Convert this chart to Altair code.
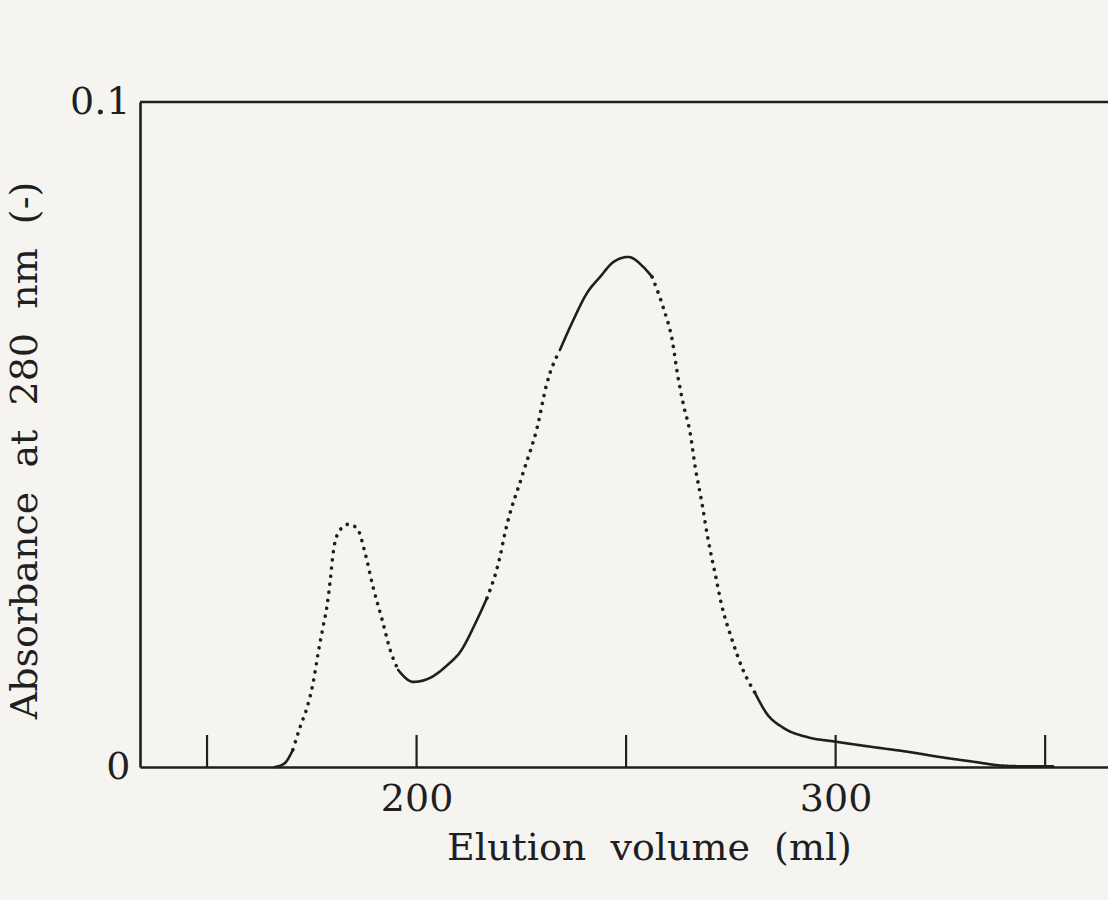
import altair as alt
import pandas as pd

# Elution volume (ml) and absorbance at 280 nm
volume = [166.2, 168.4, 170.5, 172.2, 173.9, 175.3, 176.5, 177.7, 178.6, 179.4,
          180.1, 181.3, 183.7, 185.8, 187.7, 189.6, 191.8, 193.7, 195.6, 199.2,
          203.2, 207.3, 210.4, 214.4, 216.8, 219.9, 221.1, 225.4, 228.8, 231.1,
          234.2, 237.4, 240.7, 243.8, 246.9, 250.5, 254.1, 256.2, 258.8, 261.0,
          262.4, 263.6, 265.3, 266.5, 268.1, 269.6, 271.2, 272.9, 275.3, 277.9,
          280.8, 283.6, 287.5, 293.2, 300.1, 308.9, 317.1, 324.9, 332.8, 340.0,
          346.0, 351.9]
absorbance = [0.0000, 0.0005, 0.0026, 0.0060, 0.0090, 0.0126, 0.0171, 0.0211, 0.0241, 0.0281,
              0.0322, 0.0352, 0.0365, 0.0359, 0.0322, 0.0271, 0.0221, 0.0176, 0.0146, 0.0128,
              0.0134, 0.0153, 0.0173, 0.0221, 0.0254, 0.0316, 0.0352, 0.0442, 0.0511, 0.0577,
              0.0627, 0.0672, 0.0713, 0.0737, 0.0759, 0.0767, 0.0752, 0.0737, 0.0692, 0.0642,
              0.0586, 0.0547, 0.0502, 0.0451, 0.0397, 0.0341, 0.0292, 0.0241, 0.0191, 0.0146,
              0.0111, 0.0080, 0.0059, 0.0045, 0.0038, 0.0030, 0.0023, 0.0015, 0.0008, 0.0002,
              0.0001, 0.0001]

# recorder trace: sections drawn solid or as separated dots
seg_breaks = [166.2, 170.5, 195.6, 216.8, 234.2, 256.2, 280.8, 351.9]
seg_styles = ["solid", "dotted", "solid", "dotted", "solid", "dotted", "solid"]

x_ticks = [150, 200, 250, 300, 350]
x_labeled = [200, 300]
y_ticks = [0, 0.1]

ink = "#1f1f1f"
paper = "#f6f4f1"
font = "DejaVu Serif"
sp = " \u00a0"  # wide word spacing as in the typed original

rows = []
for i, style in enumerate(seg_styles):
    lo, hi = seg_breaks[i], seg_breaks[i + 1]
    for v, a in zip(volume, absorbance):
        if lo <= v <= hi:
            rows.append({"volume": v, "absorbance": a, "seg": i, "style": style})
df = pd.DataFrame(rows)

W, H = 968, 665
xscale = alt.Scale(domain=[134.0, 365.0], nice=False)
yscale = alt.Scale(domain=[0, 0.1], nice=False)

label_expr = "(" + " || ".join(f"datum.value == {v}" for v in x_labeled) + ") ? datum.label : ''"

trace = alt.Chart(df).mark_line(
    color=ink, strokeCap="round", strokeJoin="round", interpolate="monotone"
).encode(
    x=alt.X("volume:Q", scale=xscale,
            axis=alt.Axis(values=x_ticks, labelExpr=label_expr, ticks=False, grid=False,
                          domainColor=ink, domainWidth=2.6, labelFont=font, labelFontSize=38,
                          labelColor=ink, labelPadding=13,
                          title=sp.join(["Elution", "volume", "(ml)"]), titleFont=font,
                          titleFontSize=38, titleFontWeight="normal", titleColor=ink,
                          titleX=509, titleY=92, titleBaseline="alphabetic", titleAlign="center")),
    y=alt.Y("absorbance:Q", scale=yscale,
            axis=alt.Axis(values=y_ticks, labelExpr="datum.value == 0 ? '0' : '0.1'",
                          ticks=False, grid=False, domainColor=ink, domainWidth=2.6,
                          labelFont=font, labelFontSize=38, labelColor=ink, labelPadding=10,
                          title=sp.join(["Absorbance", "at", "280", "nm", "(-)"]), titleFont=font,
                          titleFontSize=38, titleFontWeight="normal", titleColor=ink,
                          titleX=-104, titleY=348, titleBaseline="alphabetic", titleAlign="center",
                          titleAngle=270)),
    detail="seg:N",
    strokeDash=alt.StrokeDash("style:N",
                              scale=alt.Scale(domain=["solid", "dotted"], range=[[1, 0], [0.1, 8]]),
                              legend=None),
    strokeWidth=alt.StrokeWidth("style:N",
                                scale=alt.Scale(domain=["solid", "dotted"], range=[2.6, 3.6]),
                                legend=None),
)

tick_df = pd.DataFrame({"v": x_ticks})
ticks = alt.Chart(tick_df).mark_rule(color=ink, strokeWidth=2.2).encode(
    x=alt.X("v:Q", scale=xscale),
    y=alt.value(H - 32),
    y2=alt.value(H),
)

top_df = pd.DataFrame({"a": [0.1]})
top = alt.Chart(top_df).mark_rule(color=ink, strokeWidth=2.6).encode(
    y=alt.Y("a:Q", scale=yscale),
    x=alt.value(0),
    x2=alt.value(W),
)

chart = alt.layer(trace, ticks, top).properties(
    width=W, height=H,
    autosize=alt.AutoSizeParams(type="none"),
    padding={"left": 140, "top": 102, "right": 0, "bottom": 133},
    background=paper,
).configure_view(stroke=None)

chart.save("out.html", embed_options={"renderer": "svg", "actions": False})
